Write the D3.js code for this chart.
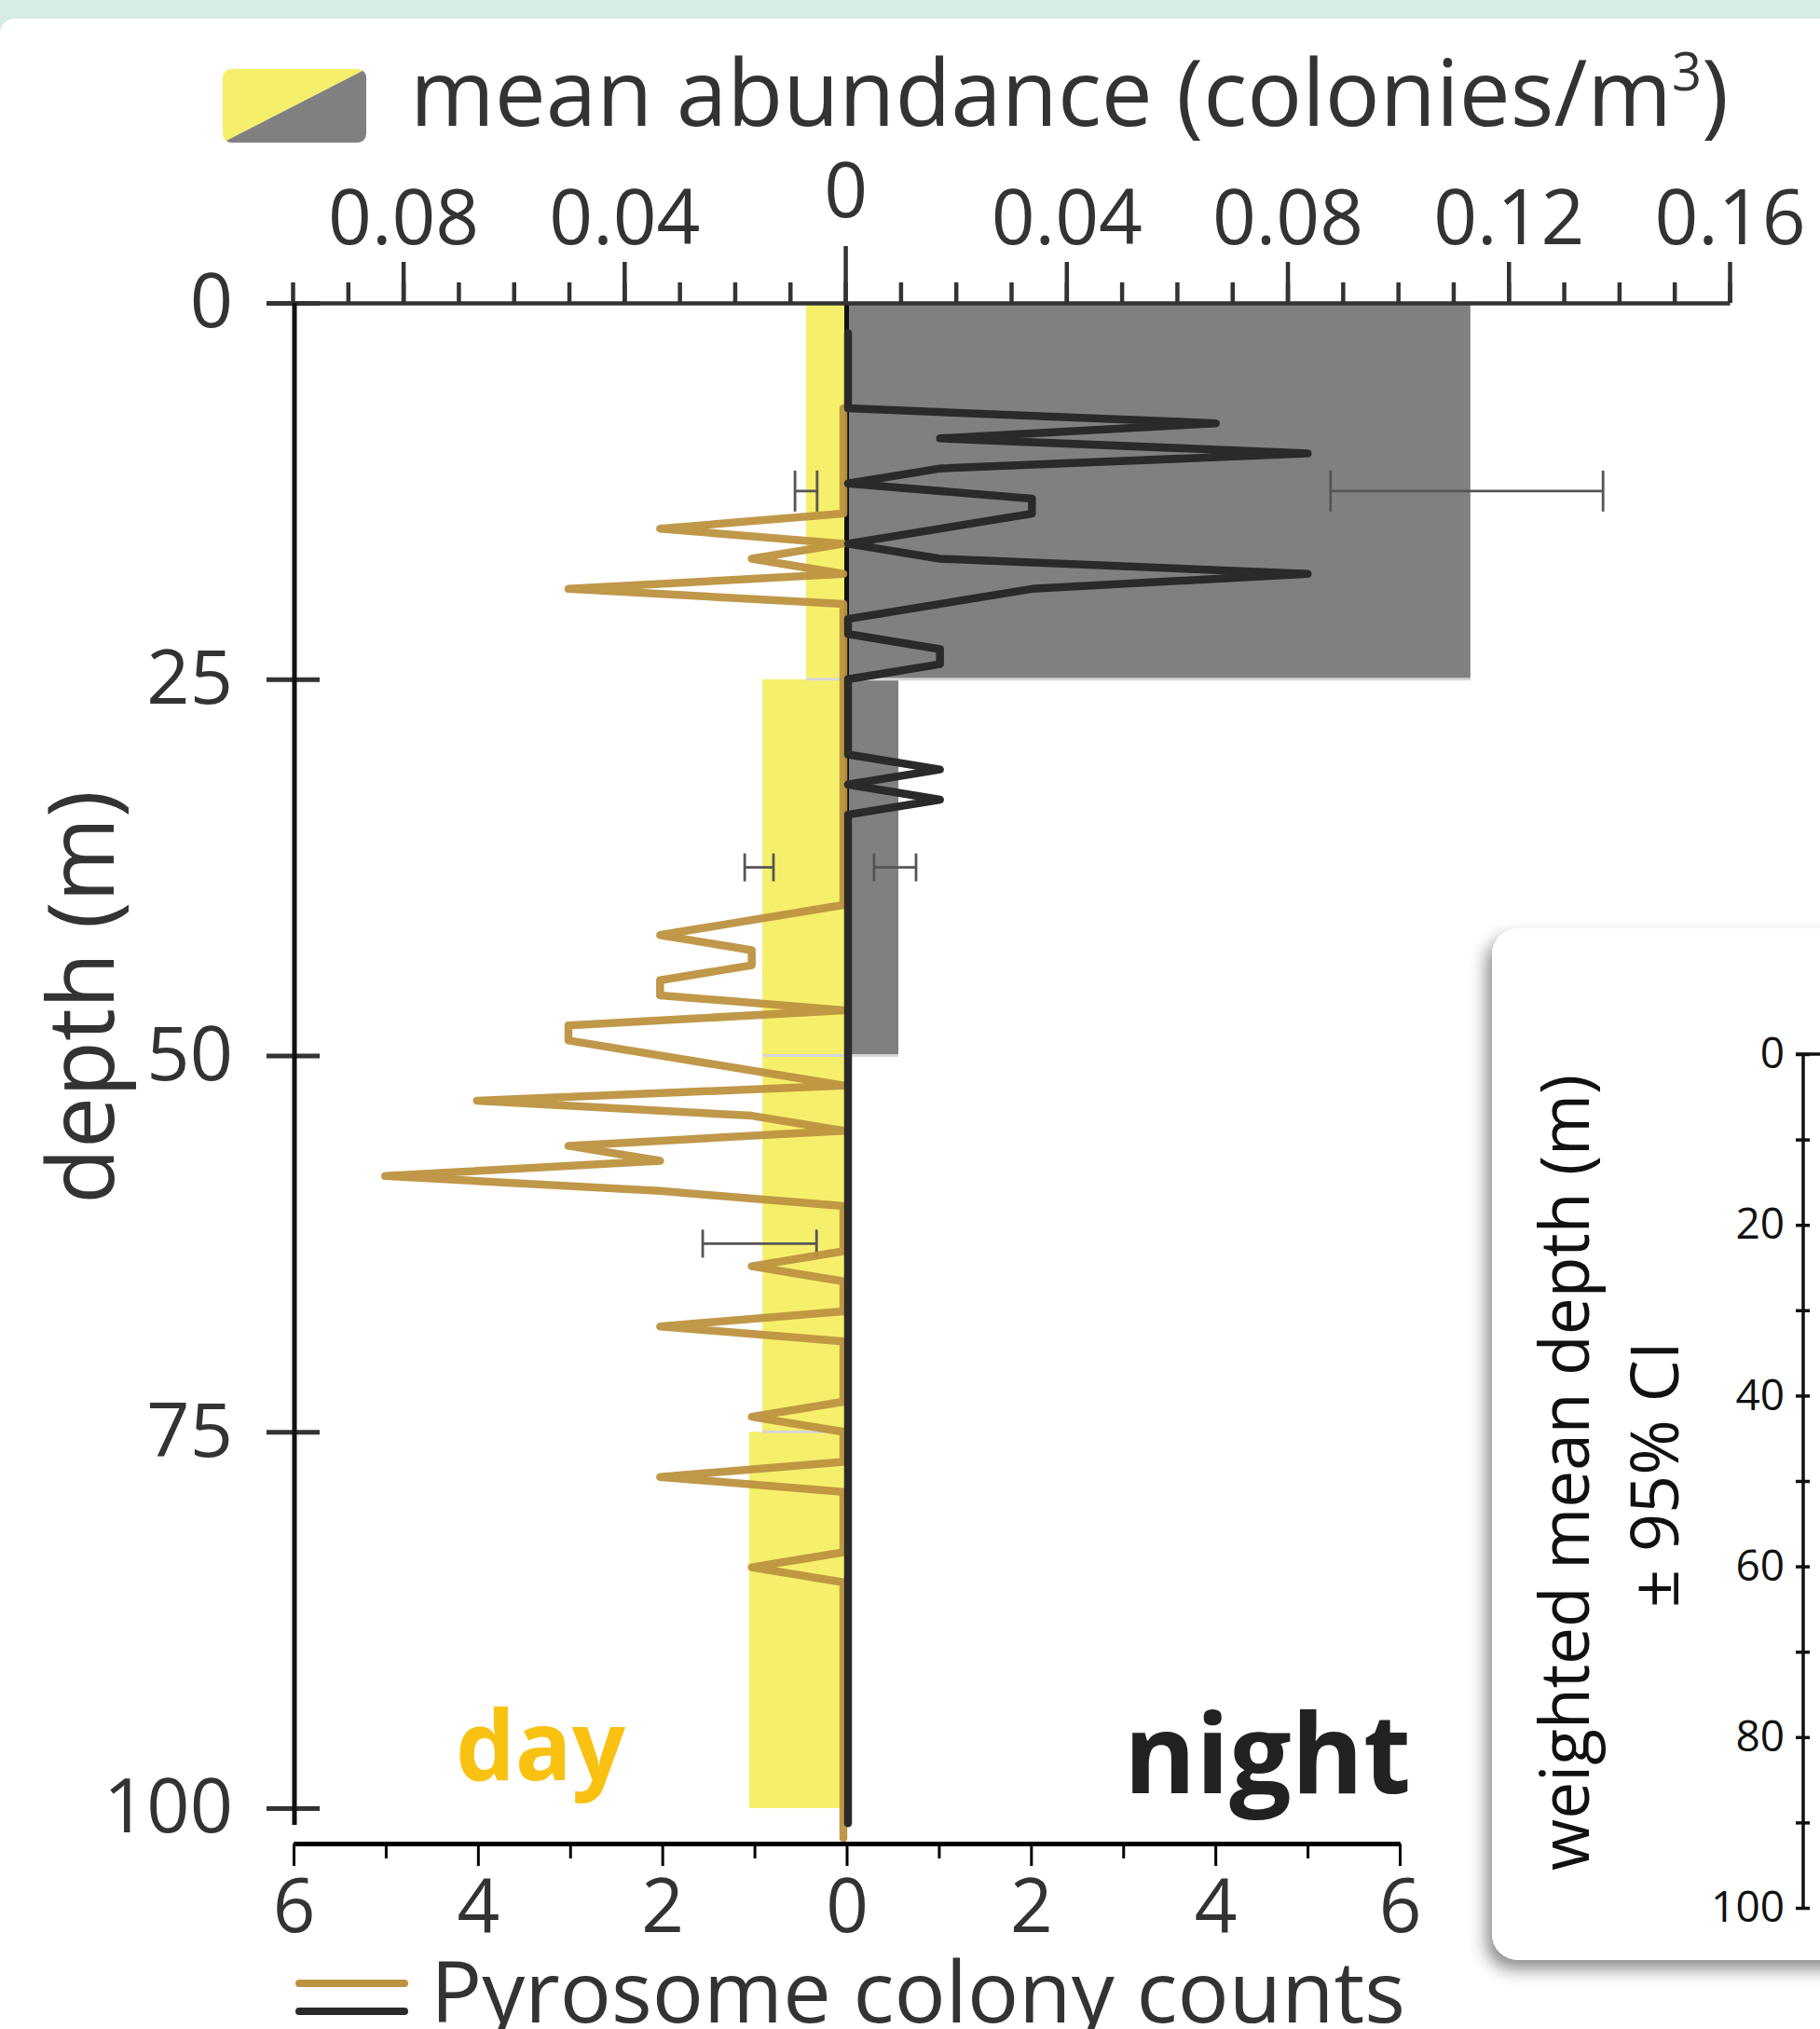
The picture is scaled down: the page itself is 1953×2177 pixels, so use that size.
<!DOCTYPE html>
<html>
<head>
<meta charset="utf-8">
<script src="https://cdn.jsdelivr.net/npm/d3@7"></script>
<style>
  html, body { margin: 0; padding: 0; background: #fff; }
  svg { display: block; font-family: 'Open Sans', 'Noto Sans', sans-serif; }
</style>
</head>
<body>
<svg id="chart" width="1953" height="2177"></svg>
<script>
// depth bins (m)
const binStart = [0, 25, 50, 75];
const binEnd = [25, 50, 75, 100];

// mean abundance (colonies/m3) per bin, with 95% CI
const dayAbundance = [0.0071, 0.0150, 0.0150, 0.0174];
const nightAbundance = [0.1131, 0.0096, 0, 0];
const dayCiLow = [0.0051, 0.0130, 0.0052, null];
const dayCiHigh = [0.0091, 0.0182, 0.0258, null];
const nightCiLow = [0.0878, 0.0052, null, null];
const nightCiHigh = [0.1371, 0.0128, null, null];

// pyrosome colony counts by depth
const dayDepths = [7, 14, 15, 16, 17, 18, 19, 20, 40, 42, 43, 44, 45, 46, 47, 48, 49, 52, 53, 54, 55, 56, 57, 58, 59, 60, 63, 64, 65, 67, 68, 69, 73, 74, 75, 77, 78, 79, 83, 84, 85, 102];
const dayCounts = [0, 0, 2, 0, 1, 0, 3, 0, 0, 2, 1, 1, 2, 2, 0, 3, 3, 0, 4, 1, 0, 3, 2, 5, 2, 0, 0, 1, 0, 0, 2, 0, 0, 1, 0, 0, 2, 0, 0, 1, 0, 0];
const nightDepths = [2, 7, 8, 9, 10, 11, 12, 13, 14, 16, 17, 18, 19, 21, 22, 23, 24, 25, 30, 31, 32, 33, 34, 101];
const nightCounts = [0, 0, 4, 1, 5, 1, 0, 2, 2, 0, 1, 5, 2, 0, 0, 1, 1, 0, 0, 1, 0, 1, 0, 0];

// tick values
const abundanceTicks = [-0.08, -0.04, 0.04, 0.08, 0.12, 0.16];
const abundanceMinor = [-0.1, -0.09, -0.08, -0.07, -0.06, -0.05, -0.04, -0.03, -0.02, -0.01, 0, 0.01, 0.02, 0.03, 0.04, 0.05, 0.06, 0.07, 0.08, 0.09, 0.1, 0.11, 0.12, 0.13, 0.14, 0.15, 0.16];
const countTicks = [-6, -4, -2, 0, 2, 4, 6];
const countMinor = [-5, -3, -1, 1, 3, 5];
const depthTicks = [0, 25, 50, 75, 100];
const wmdTicks = [0, 10, 20, 30, 40, 50, 60, 70, 80, 90, 100];

const YELLOW = '#f6ef6c';
const GREY = '#808080';
const GOLD = '#bd9240';
const DARK = '#2a2a2a';
const TEXT = '#333';

const svg = d3.select('#chart');

// scales
const xAbund = d3.scaleLinear().domain([-0.1, 0.16]).range([314, 1856]);
const xCount = d3.scaleLinear().domain([-6, 6]).range([315, 1502]);
const xDay = d3.scaleLinear().domain([-6, 0]).range([315, 905]);
const xNight = d3.scaleLinear().domain([0, 6]).range([910, 1502]);
const yDepth = d3.scaleLinear().domain([0, 100]).range([325, 1940]);
const yWmd = d3.scaleLinear().domain([0, 100]).range([1131, 2047]);

// background + card
svg.append('rect').attr('width', 1953).attr('height', 2177).attr('fill', '#d8ece6');
svg.append('rect').attr('x', 0).attr('y', 20).attr('width', 2000).attr('height', 2200)
  .attr('rx', 16).attr('fill', '#fff');

const defs = svg.append('defs');
defs.append('clipPath').attr('id', 'swatch-clip')
  .append('rect').attr('x', 239).attr('y', 74).attr('width', 154).attr('height', 79).attr('rx', 9);
const shadow = defs.append('filter').attr('id', 'shadow')
  .attr('x', '-20%').attr('y', '-20%').attr('width', '140%').attr('height', '140%');
shadow.append('feDropShadow').attr('dx', -6).attr('dy', 10).attr('stdDeviation', 9)
  .attr('flood-color', '#000').attr('flood-opacity', 0.45);

function styleAxis(g, color, width, fontSize) {
  g.attr('font-family', null).attr('font-size', null);
  g.selectAll('.tick line').attr('stroke', color).attr('stroke-width', width);
  g.selectAll('.domain').attr('stroke', color).attr('stroke-width', width);
  g.selectAll('text').attr('fill', color).style('font-size', fontSize + 'px');
}

// ---- bars ----
const bins = binStart.map((s, i) => ({
  start: s, end: binEnd[i],
  day: dayAbundance[i], night: nightAbundance[i],
  dayLo: dayCiLow[i], dayHi: dayCiHigh[i],
  nightLo: nightCiLow[i], nightHi: nightCiHigh[i]
}));

const bars = svg.append('g');
bars.selectAll('.day-bar').data(bins).enter().append('rect')
  .attr('class', 'day-bar')
  .attr('x', d => xAbund(-d.day))
  .attr('width', d => xAbund(0) - xAbund(-d.day))
  .attr('y', d => yDepth(d.start))
  .attr('height', d => yDepth(d.end) - yDepth(d.start))
  .attr('fill', YELLOW);

bars.selectAll('.night-bar').data(bins.filter(d => d.night > 0)).enter().append('rect')
  .attr('class', 'night-bar')
  .attr('x', xAbund(0))
  .attr('width', d => xAbund(d.night) - xAbund(0))
  .attr('y', d => yDepth(d.start))
  .attr('height', d => yDepth(d.end) - yDepth(d.start))
  .attr('fill', GREY);

// faint bottom edge of each bar
bars.selectAll('.bar-edge').data(bins.filter(d => d.end < 100)).enter().append('line')
  .attr('x1', d => xAbund(-d.day))
  .attr('x2', d => xAbund(d.night))
  .attr('y1', d => yDepth(d.end))
  .attr('y2', d => yDepth(d.end))
  .attr('stroke', '#d6d6d6').attr('stroke-width', 3);

// center line
svg.append('line')
  .attr('x1', xCount(0)).attr('x2', xCount(0))
  .attr('y1', yDepth(0)).attr('y2', yDepth(100))
  .attr('stroke', '#111').attr('stroke-width', 5);

// ---- error bars ----
const errs = [];
bins.forEach((b, i) => {
  const cap = i === 0 ? 22 : 15;
  const mid = (b.start + b.end) / 2;
  if (b.dayLo != null) errs.push({ lo: -b.dayLo, hi: -b.dayHi, depth: mid, cap });
  if (b.nightLo != null) errs.push({ lo: b.nightLo, hi: b.nightHi, depth: mid, cap });
});
const errG = svg.append('g').attr('stroke', '#555').attr('stroke-width', 2.8);
errs.forEach(e => {
  const y = yDepth(e.depth);
  errG.append('line').attr('x1', xAbund(e.lo)).attr('x2', xAbund(e.hi)).attr('y1', y).attr('y2', y);
  [e.lo, e.hi].forEach(v => {
    errG.append('line').attr('x1', xAbund(v)).attr('x2', xAbund(v))
      .attr('y1', y - e.cap).attr('y2', y + e.cap);
  });
});

// ---- count lines ----
const dayLine = d3.line().x(d => xDay(-d[1])).y(d => yDepth(d[0]));
const nightLine = d3.line().x(d => xNight(d[1])).y(d => yDepth(d[0]));

svg.append('path')
  .datum(dayDepths.map((d, i) => [d, dayCounts[i]]))
  .attr('d', dayLine)
  .attr('fill', 'none').attr('stroke', GOLD).attr('stroke-opacity', 0.95)
  .attr('stroke-width', 8.5).attr('stroke-linejoin', 'round').attr('stroke-linecap', 'round');

svg.append('path')
  .datum(nightDepths.map((d, i) => [d, nightCounts[i]]))
  .attr('d', nightLine)
  .attr('fill', 'none').attr('stroke', DARK)
  .attr('stroke-width', 8.5).attr('stroke-linejoin', 'round').attr('stroke-linecap', 'round');

// ---- top axis (abundance) ----
const topG = svg.append('g').attr('transform', 'translate(0,325)');
topG.append('g')
  .call(d3.axisTop(xAbund).tickValues(abundanceMinor).tickSize(22).tickSizeOuter(0).tickFormat(''))
  .call(g => g.selectAll('text').remove())
  .call(g => styleAxis(g, TEXT, 4.5, 82));
topG.append('g')
  .call(d3.axisTop(xAbund).tickValues(abundanceTicks).tickSize(44).tickPadding(19)
    .tickFormat(d => d3.format('.2f')(Math.abs(d))))
  .call(g => g.select('.domain').remove())
  .call(g => styleAxis(g, TEXT, 4.5, 82));
topG.append('g')
  .call(d3.axisTop(xAbund).tickValues([0]).tickSize(61).tickPadding(31).tickFormat(() => '0'))
  .call(g => g.select('.domain').remove())
  .call(g => styleAxis(g, TEXT, 4.5, 82));

// ---- depth axis ----
const leftG = svg.append('g').attr('transform', 'translate(316,0)')
  .call(d3.axisLeft(yDepth).tickValues(depthTicks).tickSize(30).tickPadding(36))
  .call(g => g.select('.domain').remove())
  .call(g => styleAxis(g, TEXT, 5, 81));
leftG.selectAll('.tick line').attr('x1', 27);
leftG.append('line').attr('x1', 0).attr('x2', 0).attr('y1', 325).attr('y2', 1958)
  .attr('stroke', '#111').attr('stroke-width', 5);

svg.append('text')
  .attr('transform', 'translate(122,1070) rotate(-90)')
  .attr('text-anchor', 'middle')
  .attr('fill', TEXT).style('font-size', '98px')
  .text('depth (m)');

// ---- bottom axis (counts) ----
const botG = svg.append('g').attr('transform', 'translate(0,1978)');
botG.append('g')
  .call(d3.axisBottom(xCount).tickValues(countMinor).tickSize(16).tickSizeOuter(0).tickFormat(''))
  .call(g => g.selectAll('text').remove())
  .call(g => styleAxis(g, '#000', 5, 80));
botG.append('g')
  .call(d3.axisBottom(xCount).tickValues(countTicks).tickSize(24).tickSizeOuter(0).tickPadding(14)
    .tickFormat(d => Math.abs(d)))
  .call(g => styleAxis(g, '#000', 5, 80));
botG.selectAll('.tick line').attr('stroke-width', 3);
botG.selectAll('text').attr('fill', TEXT);

// ---- labels ----
svg.append('text').attr('x', 489).attr('y', 1910)
  .attr('textLength', 182).attr('lengthAdjust', 'spacingAndGlyphs')
  .attr('fill', '#f9c112').style('font-size', '104px').style('font-weight', 700)
  .text('day');
svg.append('text').attr('x', 1206).attr('y', 1924)
  .attr('textLength', 308).attr('lengthAdjust', 'spacingAndGlyphs')
  .attr('fill', '#222').style('font-size', '118px').style('font-weight', 700)
  .text('night');

// abundance legend
const sw = svg.append('g').attr('clip-path', 'url(#swatch-clip)');
sw.append('polygon').attr('points', '239,74 393,74 239,153').attr('fill', YELLOW);
sw.append('polygon').attr('points', '393,74 393,153 239,153').attr('fill', GREY);

const title = svg.append('text').attr('x', 440).attr('y', 135)
  .attr('fill', TEXT).style('font-size', '98px');
title.append('tspan').text('mean abundance (colonies/m');
title.append('tspan').attr('dy', -38).style('font-size', '56px').text('3');
title.append('tspan').attr('dy', 38).text(')');

// count legend
svg.append('line').attr('x1', 321).attr('x2', 434).attr('y1', 2128).attr('y2', 2128)
  .attr('stroke', GOLD).attr('stroke-width', 8).attr('stroke-linecap', 'round');
svg.append('line').attr('x1', 321).attr('x2', 434).attr('y1', 2158).attr('y2', 2158)
  .attr('stroke', DARK).attr('stroke-width', 8).attr('stroke-linecap', 'round');
svg.append('text').attr('x', 462).attr('y', 2170)
  .attr('textLength', 1046).attr('lengthAdjust', 'spacingAndGlyphs')
  .attr('fill', TEXT).style('font-size', '92px')
  .text('Pyrosome colony counts');

// ---- inset panel: weighted mean depth ----
svg.append('rect').attr('x', 1601).attr('y', 996).attr('width', 420).attr('height', 1107)
  .attr('rx', 28).attr('fill', '#fff').attr('filter', 'url(#shadow)');

const wmdG = svg.append('g').attr('transform', 'translate(1935,0)')
  .call(d3.axisLeft(yWmd).tickValues(wmdTicks).tickSize(8).tickPadding(12)
    .tickFormat(d => (d % 20 === 0 ? d : '')))
  .call(g => g.select('.domain').remove())
  .call(g => g.selectAll('text').filter(d => d % 20 !== 0).remove())
  .call(g => styleAxis(g, '#111', 3.5, 46));
wmdG.selectAll('.tick line').attr('x1', 7);
wmdG.append('line').attr('x1', 0).attr('x2', 0).attr('y1', yWmd(0)).attr('y2', yWmd(100))
  .attr('stroke', '#111').attr('stroke-width', 3.5);
wmdG.append('line').attr('x1', -8).attr('x2', 30).attr('y1', yWmd(0)).attr('y2', yWmd(0))
  .attr('stroke', '#111').attr('stroke-width', 3.5);

svg.append('text')
  .attr('transform', 'translate(1705,1580) rotate(-90)')
  .attr('text-anchor', 'middle')
  .attr('textLength', 854).attr('lengthAdjust', 'spacingAndGlyphs')
  .attr('fill', '#111').style('font-size', '74px')
  .text('weighted mean depth (m)');
svg.append('text')
  .attr('transform', 'translate(1801,1582) rotate(-90)')
  .attr('text-anchor', 'middle')
  .attr('fill', '#111').style('font-size', '72px')
  .text('± 95% CI');
</script>
</body>
</html>
